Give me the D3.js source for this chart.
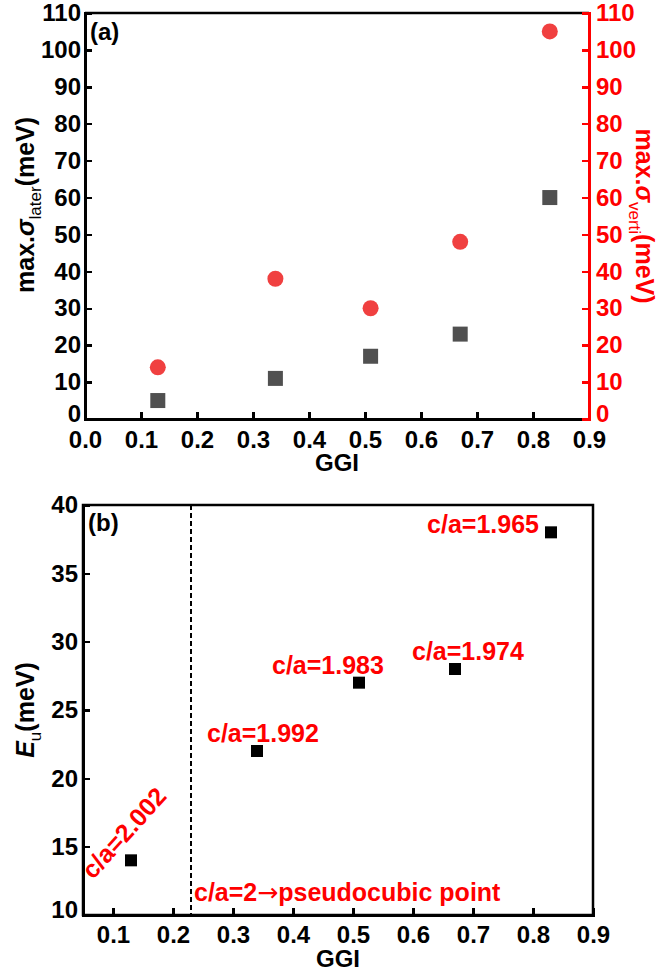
<!DOCTYPE html>
<html lang="en">
    <head>
        <meta charset="utf-8">
        <title>GGI chart</title>
        <script type="text/javascript" src="https://cdn.jsdelivr.net/npm/d3@7"></script>
        <style type="text/css">
        body { margin: 0; background: #fff; }
        svg text { font-family: "Liberation Sans", Arial, sans-serif; font-weight: bold; }
        .axis path, .axis line { shape-rendering: crispEdges; }
        .axis text { font-size: 24px; }
        </style>
    </head>
    <body>
        <script>
                var w = 672;
                var h = 971;

                // panel (a) data
                var ggiA = [0.13, 0.34, 0.51, 0.67, 0.83];
                var sigmaLater = [5, 11, 17, 23, 60];
                var sigmaVerti = [14, 38, 30, 48, 105];

                // panel (b) data
                var ggiB = [0.13, 0.34, 0.51, 0.67, 0.83];
                var eu = [14, 22, 27, 28, 38];
                var caLabels = ["c/a=2.002", "c/a=1.992", "c/a=1.983", "c/a=1.974", "c/a=1.965"];
                var pseudoX = 0.23;

                var ticksA = [0, 0.1, 0.2, 0.3, 0.4, 0.5, 0.6, 0.7, 0.8, 0.9];
                var ticksAY = [0, 10, 20, 30, 40, 50, 60, 70, 80, 90, 100, 110];
                var ticksB = [0.1, 0.2, 0.3, 0.4, 0.5, 0.6, 0.7, 0.8, 0.9];
                var ticksBY = [10, 15, 20, 25, 30, 35, 40];

                var red = "#ff0000";

                var svg = d3.select("body")
                  .append("svg")
                  .attr("width", w)
                  .attr("height", h);

                // ---------- panel (a) ----------
                var xA = d3.scaleLinear().domain([0, 0.9]).range([85, 589]);
                var yA = d3.scaleLinear().domain([0, 110]).range([419, 13]);
                var yA2 = d3.scaleLinear().domain([0, 110]).range([419, 13]);

                // top border
                svg.append("line")
                  .attr("x1", xA(0)).attr("x2", xA(0.9))
                  .attr("y1", yA(110)).attr("y2", yA(110))
                  .attr("stroke", "black").attr("stroke-width", 2.5);

                var axA = svg.append("g")
                  .attr("class", "axis")
                  .attr("transform", "translate(0," + yA(0) + ")")
                  .call(d3.axisBottom(xA).tickValues(ticksA).tickFormat(d3.format(".1f")).tickSize(-7).tickPadding(12));

                var ayA = svg.append("g")
                  .attr("class", "axis")
                  .attr("transform", "translate(" + xA(0) + ",0)")
                  .call(d3.axisLeft(yA).tickValues(ticksAY).tickSize(-7).tickPadding(4));

                var ayA2 = svg.append("g")
                  .attr("class", "axis")
                  .attr("transform", "translate(" + xA(0.9) + ",0)")
                  .call(d3.axisRight(yA2).tickValues(ticksAY).tickSize(-7).tickPadding(7));

                [axA, ayA].forEach(function (g) {
                  g.select(".domain").attr("stroke", "black").attr("stroke-width", 2.5);
                  g.selectAll(".tick line").attr("stroke", "black").attr("stroke-width", 2.5);
                  g.selectAll(".tick text").attr("fill", "black");
                });
                ayA2.select(".domain").attr("stroke", red).attr("stroke-width", 2.5);
                ayA2.selectAll(".tick line").attr("stroke", red).attr("stroke-width", 2.5);
                ayA2.selectAll(".tick text").attr("fill", red);
                // the zero labels sit a little higher, clear of the GGI ticks
                ayA.selectAll(".tick").filter(function (d) { return d === 0; }).select("text").attr("dy", "0.1em");
                ayA2.selectAll(".tick").filter(function (d) { return d === 0; }).select("text").attr("dy", "0.1em");

                // squares
                svg.selectAll(".sqA")
                  .data(ggiA)
                  .enter()
                  .append("rect")
                  .attr("x", function (d) { return xA(d) - 7.5; })
                  .attr("y", function (d, i) { return yA(sigmaLater[i]) - 7.5; })
                  .attr("width", 15)
                  .attr("height", 15)
                  .attr("fill", "#505050");

                // circles
                svg.selectAll(".ciA")
                  .data(ggiA)
                  .enter()
                  .append("circle")
                  .attr("cx", function (d) { return xA(d); })
                  .attr("cy", function (d, i) { return yA2(sigmaVerti[i]); })
                  .attr("r", 8)
                  .attr("fill", "#f04040");

                svg.append("text")
                  .text("(a)")
                  .attr("x", 90)
                  .attr("y", 40)
                  .attr("font-size", "24px");

                svg.append("text")
                  .text("GGI")
                  .attr("x", (xA(0) + xA(0.9)) / 2)
                  .attr("y", 471)
                  .attr("text-anchor", "middle")
                  .attr("font-size", "24px");

                var lblL = svg.append("text")
                  .attr("transform", "translate(34," + yA(58) + ") rotate(-90)")
                  .attr("text-anchor", "middle")
                  .attr("font-size", "25px");
                lblL.append("tspan").text("max.");
                lblL.append("tspan").text("σ").attr("font-style", "italic");
                lblL.append("tspan").text("later").attr("font-size", "17px").attr("font-weight", "normal").attr("dy", 7);
                lblL.append("tspan").text("(meV)").attr("dy", -7);

                var lblR = svg.append("text")
                  .attr("transform", "translate(636," + yA(55) + ") rotate(90)")
                  .attr("text-anchor", "middle")
                  .attr("fill", red)
                  .attr("font-size", "25px");
                lblR.append("tspan").text("max.");
                lblR.append("tspan").text("σ").attr("font-style", "italic");
                lblR.append("tspan").text("verti").attr("font-size", "17px").attr("font-weight", "normal").attr("dy", 7);
                lblR.append("tspan").text("(meV)").attr("dy", -7);

                // ---------- panel (b) ----------
                var xB = d3.scaleLinear().domain([0.05, 0.9]).range([83, 593]);
                var yB = d3.scaleLinear().domain([10, 40]).range([915, 505]);

                svg.append("rect")
                  .attr("x", xB(0.05))
                  .attr("y", yB(40))
                  .attr("width", xB(0.9) - xB(0.05))
                  .attr("height", yB(10) - yB(40))
                  .attr("fill", "none")
                  .attr("stroke", "black")
                  .attr("stroke-width", 2.5);

                var axB = svg.append("g")
                  .attr("class", "axis")
                  .attr("transform", "translate(0," + yB(10) + ")")
                  .call(d3.axisBottom(xB).tickValues(ticksB).tickFormat(d3.format(".1f")).tickSize(-7).tickPadding(11));

                var ayB = svg.append("g")
                  .attr("class", "axis")
                  .attr("transform", "translate(" + xB(0.05) + ",0)")
                  .call(d3.axisLeft(yB).tickValues(ticksBY).tickSize(-7).tickPadding(5));

                [axB, ayB].forEach(function (g) {
                  g.select(".domain").attr("stroke", "black").attr("stroke-width", 2.5);
                  g.selectAll(".tick line").attr("stroke", "black").attr("stroke-width", 2.5);
                  g.selectAll(".tick text").attr("fill", "black");
                });
                ayB.selectAll(".tick").filter(function (d) { return d === 10; }).select("text").attr("dy", "0.1em");

                // pseudocubic dashed line
                svg.append("line")
                  .attr("x1", xB(pseudoX)).attr("x2", xB(pseudoX))
                  .attr("y1", yB(40)).attr("y2", yB(10))
                  .attr("stroke", "black")
                  .attr("stroke-width", 2)
                  .attr("stroke-dasharray", "5,3");

                svg.selectAll(".sqB")
                  .data(ggiB)
                  .enter()
                  .append("rect")
                  .attr("x", function (d) { return xB(d) - 6; })
                  .attr("y", function (d, i) { return yB(eu[i]) - 6; })
                  .attr("width", 12)
                  .attr("height", 12)
                  .attr("fill", "black");

                // c/a labels (offsets relative to each point)
                var lblOff = [[-38, 20, -48, "start"], [-50, -9, 0, "start"], [-87, -9, 0, "start"], [-43, -9, 0, "start"], [-12, 1, 0, "end"]];
                svg.selectAll(".caB")
                  .data(caLabels)
                  .enter()
                  .append("text")
                  .text(function (d) { return d; })
                  .attr("fill", red)
                  .attr("font-size", "25px")
                  .attr("text-anchor", function (d, i) { return lblOff[i][3]; })
                  .attr("transform", function (d, i) {
                    var o = lblOff[i];
                    return "translate(" + (xB(ggiB[i]) + o[0]) + "," + (yB(eu[i]) + o[1]) + ") rotate(" + o[2] + ")";
                  });

                var pc = svg.append("text")
                  .attr("x", xB(pseudoX) + 3)
                  .attr("y", 901)
                  .attr("fill", red)
                  .attr("font-size", "25px");
                pc.append("tspan").text("c/a=2");
                pc.append("tspan").text("\u2192").attr("font-family", "DejaVu Sans").attr("font-weight", "normal");
                pc.append("tspan").text("pseudocubic point");

                svg.append("text")
                  .text("(b)")
                  .attr("x", 88)
                  .attr("y", 531)
                  .attr("font-size", "24px");

                svg.append("text")
                  .text("GGI")
                  .attr("x", (xB(0.05) + xB(0.9)) / 2)
                  .attr("y", 967)
                  .attr("text-anchor", "middle")
                  .attr("font-size", "24px");

                var lblE = svg.append("text")
                  .attr("transform", "translate(34," + yB(25) + ") rotate(-90)")
                  .attr("text-anchor", "middle")
                  .attr("font-size", "25px");
                lblE.append("tspan").text("E").attr("font-style", "italic");
                lblE.append("tspan").text("u").attr("font-size", "17px").attr("font-weight", "normal").attr("dy", 7);
                lblE.append("tspan").text("(meV)").attr("dy", -7);
            </script>
    </body>
</html>
